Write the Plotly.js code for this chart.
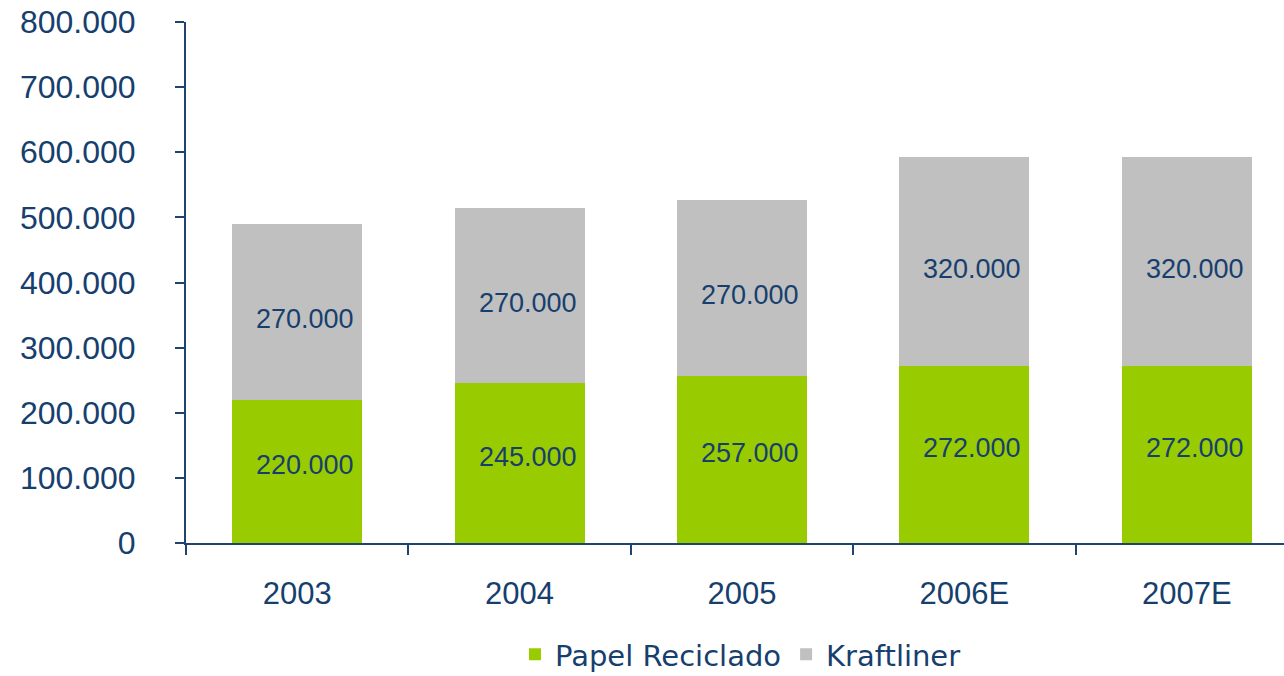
<!DOCTYPE html>
<html>
<head>
<meta charset="utf-8">
<script src="https://cdn.plot.ly/plotly-3.0.1.min.js"></script>
<style>html,body{margin:0;padding:0;background:#fff;}#chart{width:1284px;height:676px;}</style>
</head>
<body>
<div id="chart"></div>
<script>
const categories = ["2003", "2004", "2005", "2006E", "2007E"];
const papelReciclado = [220000, 245000, 257000, 272000, 272000];
const kraftliner = [270000, 270000, 270000, 320000, 320000];
const seriesNames = ["Papel Reciclado", "Kraftliner"];

const textColor = "#173F6E";
const font = "Liberation Sans, Arial, sans-serif";

function fmt(v) {
  return String(v).replace(/\B(?=(\d{3})+(?!\d))/g, ".");
}

const traces = [
  {
    type: "bar", name: seriesNames[0], x: categories, y: papelReciclado,
    marker: { color: "#99CC00" }, width: 0.584, hoverinfo: "skip"
  },
  {
    type: "bar", name: seriesNames[1], x: categories, y: kraftliner,
    marker: { color: "#C0C0C0" }, width: 0.584, hoverinfo: "skip"
  }
];

const annotations = [];
categories.forEach((c, i) => {
  annotations.push({
    x: i, y: papelReciclado[i] / 2, text: fmt(papelReciclado[i]),
    showarrow: false, xshift: 8, yshift: 6,
    font: { family: font, size: 27, color: textColor }
  });
  annotations.push({
    x: i, y: papelReciclado[i] + kraftliner[i] / 2, text: fmt(kraftliner[i]),
    showarrow: false, xshift: 8, yshift: -7,
    font: { family: font, size: 27, color: textColor }
  });
});

const layout = {
  width: 1284, height: 676,
  margin: { l: 186, r: 0, t: 22, b: 133 },
  paper_bgcolor: "#ffffff", plot_bgcolor: "#ffffff",
  barmode: "stack",
  separators: ",.",
  font: { family: font, color: textColor },
  showlegend: true,
  legend: {
    orientation: "h", x: 0.505, xanchor: "center",
    yref: "container", y: 0.032, yanchor: "middle",
    font: { family: "DejaVu Sans, sans-serif", size: 29, color: textColor },
    traceorder: "normal", itemclick: false
  },
  xaxis: {
    type: "category",
    range: [-0.5, 4.437],
    showline: true, linecolor: "#1F4470", linewidth: 2,
    ticks: "outside", tickson: "boundaries", ticklen: 10, tickcolor: "#1F4470", tickwidth: 2,
    showgrid: false, zeroline: false,
    tickfont: { family: font, size: 31, color: textColor },
    ticklabelstandoff: 22
  },
  yaxis: {
    range: [0, 800000],
    dtick: 100000, tickformat: ",d",
    showline: true, linecolor: "#1F4470", linewidth: 2,
    ticks: "outside", ticklen: 9, tickcolor: "#1F4470", tickwidth: 2,
    showgrid: false, zeroline: false,
    tickfont: { family: font, size: 32, color: textColor },
    ticklabelstandoff: 33
  },
  annotations: annotations
};

Plotly.newPlot("chart", traces, layout, { displayModeBar: false, staticPlot: true });
</script>
</body>
</html>
